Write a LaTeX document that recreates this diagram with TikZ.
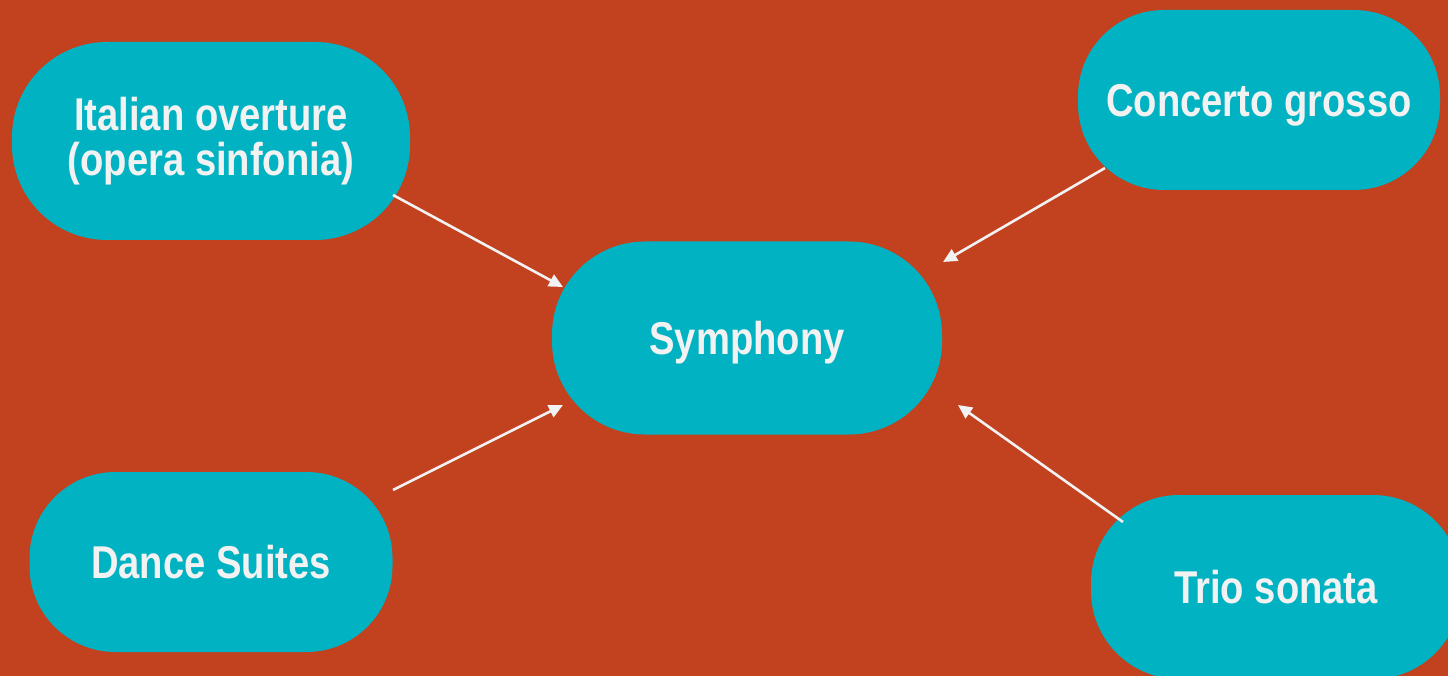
\documentclass[tikz,border=0pt]{standalone}
\usepackage{fontspec}
\newfontfamily\labfont{Liberation Sans}[UprightFont={* Bold}, FakeStretch=0.83]
\usetikzlibrary{arrows.meta}
\definecolor{bgrust}{HTML}{C2411E}
\definecolor{pillteal}{HTML}{00B2C2}
\definecolor{labwhite}{HTML}{F2F2F2}
\tikzset{
  pill/.style={fill=pillteal, draw=none, inner sep=0pt, align=center,
    text=labwhite, font=\labfont\fontsize{46}{45}\selectfont},
  oneline/.style={text height=33pt, text depth=0pt},
  flow/.style={draw=labwhite, line width=2.6pt,
    -{Triangle[length=14pt,width=13pt]}}
}
\begin{document}
\begin{tikzpicture}[x=1pt,y=-1pt]
\useasboundingbox (0,0) rectangle (1448,676);
\fill[bgrust] (0,0) rectangle (1448,676);
\node[pill, minimum width=398pt, minimum height=198pt, rounded corners=95pt] (it) at (211,141) {Italian overture\\(opera sinfonia)};
\node[pill, oneline, minimum width=362pt, minimum height=180pt, rounded corners=86pt] (con) at (1259,100) {Concerto grosso};
\node[pill, oneline, minimum width=390pt, minimum height=193pt, rounded corners=93pt] (sym) at (747,338) {Symphony};
\node[pill, oneline, minimum width=363pt, minimum height=180pt, rounded corners=86pt] (dan) at (211,562) {Dance Suites};
\node[pill, oneline, minimum width=370pt, minimum height=184pt, rounded corners=88pt] (tri) at (1276,587) {Trio sonata};
\draw[flow] ([shift={(182,54)}]it.center) -- ([shift={(-184,-51)}]sym.center);
\draw[flow] ([shift={(-154,68)}]con.center) -- ([shift={(196,-76)}]sym.center);
\draw[flow] ([shift={(182,-72)}]dan.center) -- ([shift={(-184,67)}]sym.center);
\draw[flow] ([shift={(-153,-65)}]tri.center) -- ([shift={(211,67)}]sym.center);
\end{tikzpicture}
\end{document}
